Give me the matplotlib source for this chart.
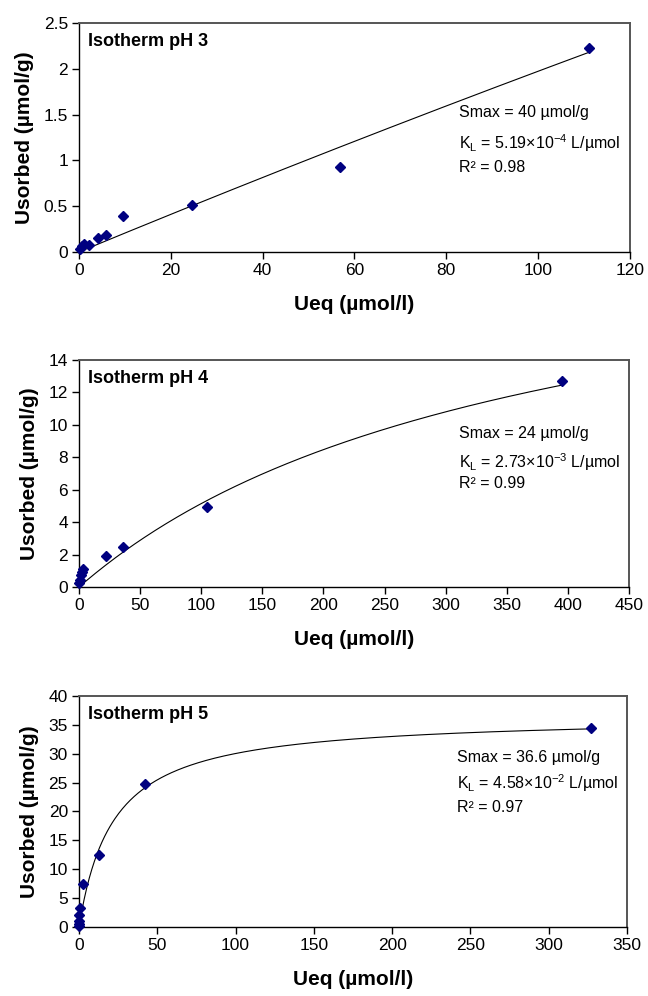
import numpy as np
import matplotlib.pyplot as plt

plt.rcParams['font.family'] = ['Liberation Sans', 'DejaVu Sans']
plt.rcParams['mathtext.fontset'] = 'custom'
plt.rcParams['mathtext.rm'] = 'Liberation Sans'
plt.rcParams['mathtext.it'] = 'Liberation Sans'

# data
ueq_ph3 = [0.2, 0.6, 1.1, 2.2, 4.1, 5.8, 9.5, 24.6, 56.8, 111]
us_ph3 = [0.03, 0.06, 0.09, 0.08, 0.15, 0.19, 0.39, 0.51, 0.93, 2.23]

ueq_ph4 = [0.4, 0.6, 1.5, 2.6, 3.5, 22.5, 36.3, 104.7, 395]
us_ph4 = [0.25, 0.45, 0.75, 0.95, 1.1, 1.9, 2.5, 4.95, 12.7]

ueq_ph5 = [0.2, 0.2, 0.3, 0.3, 0.4, 2.4, 12.8, 42, 327]
us_ph5 = [0.2, 0.6, 1.0, 2.0, 3.2, 7.4, 12.4, 24.8, 34.4]

# Langmuir fit parameters printed on the chart
smax = [40, 24, 36.6]
kl = [5.19e-4, 2.73e-3, 4.58e-2]
r2 = ['0.98', '0.99', '0.97']
kl_text = ['5.19', '2.73', '4.58']
kl_exp = ['-4', '-3', '-2']
titles = ['Isotherm pH 3', 'Isotherm pH 4', 'Isotherm pH 5']

xlims = [(0, 120), (0, 450), (0, 350)]
ylims = [(0, 2.5), (0, 14), (0, 40)]
xsteps = [20, 50, 50]
ysteps = [0.5, 2, 5]

fig = plt.figure(figsize=(6.48, 9.96), dpi=100)
boxes = [[0.1219, 0.747, 0.8503, 0.2299],
         [0.1219, 0.4106, 0.8488, 0.2279],
         [0.1219, 0.0693, 0.8457, 0.2319]]
# y of the three annotation lines (axes fraction)
ann_y = [[0.607, 0.476, 0.371],
         [0.678, 0.551, 0.455],
         [0.732, 0.623, 0.519]]

xs = [ueq_ph3, ueq_ph4, ueq_ph5]
ys = [us_ph3, us_ph4, us_ph5]

for i in range(3):
    ax = fig.add_axes(boxes[i])
    # fitted Langmuir curve
    xf = np.linspace(0, max(xs[i]), 400)
    yf = smax[i] * kl[i] * xf / (1 + kl[i] * xf)
    ax.plot(xf, yf, color='black', lw=0.8)
    ax.plot(xs[i], ys[i], 'D', color='#000080', ms=5.5, clip_on=False, zorder=3)

    ax.set_xlim(*xlims[i])
    ax.set_ylim(*ylims[i])
    ax.set_xticks(np.arange(xlims[i][0], xlims[i][1] + 0.01, xsteps[i]))
    yt = np.arange(ylims[i][0], ylims[i][1] + 0.001, ysteps[i])
    ax.set_yticks(yt)
    ax.set_yticklabels(['{:g}'.format(v) for v in yt])
    ax.tick_params(direction='out', length=5, width=1, labelsize=12.5, colors='black', pad=3)

    for s in ['left', 'bottom']:
        ax.spines[s].set_color('black')
        ax.spines[s].set_linewidth(1.0)
    for s in ['top', 'right']:
        ax.spines[s].set_color('#555555')
        ax.spines[s].set_linewidth(1.4)

    ax.set_xlabel('Ueq (µmol/l)', fontsize=15, fontweight='bold', labelpad=12)
    ax.set_ylabel('Usorbed (µmol/g)', fontsize=15, fontweight='bold', labelpad=7)

    ax.text(0.016, 0.92, titles[i], transform=ax.transAxes, fontsize=13,
            fontweight='bold', va='center', ha='left')
    ax.text(0.69, ann_y[i][0], 'Smax = {:g} µmol/g'.format(smax[i]), transform=ax.transAxes,
            fontsize=11.5, va='center')
    ax.text(0.69, ann_y[i][1],
            r'K$_{\mathregular{L}}$ = ' + kl_text[i] + r'$\times$10$^{\mathregular{' + kl_exp[i] + '}}$ L/µmol',
            transform=ax.transAxes, fontsize=11.5, va='center')
    ax.text(0.69, ann_y[i][2], 'R² = ' + r2[i], transform=ax.transAxes,
            fontsize=11.5, va='center')

fig.savefig('out.png', dpi=100)
